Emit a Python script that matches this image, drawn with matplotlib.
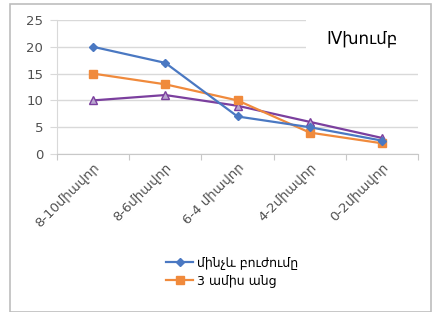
import matplotlib.pyplot as plt
from matplotlib.patches import Rectangle

categories = ["8-10միավոր", "8-6միավոր", "6-4 միավոր", "4-2միավոր", "0-2միավոր"]
before = [20, 17, 7, 5, 2.5]
after3 = [15, 13, 10, 4, 2]
third = [10, 11, 9, 6, 3]
labels = ["մինչև բուժումը", "3 ամիս անց"]

plt.rcParams['font.family'] = ['DejaVu Sans']

fig = plt.figure(figsize=(4.34, 3.12), dpi=100)
fig.patches.append(Rectangle((10 / 434, 0.0), 421 / 434, 1 - 4 / 312,
                             transform=fig.transFigure, fill=False,
                             edgecolor='#bdbdbd', lw=1.2))
ax = fig.add_axes([57 / 434, 1 - 154 / 312, (418 - 57) / 434, (154 - 20) / 312])

x = range(len(categories))
ax.plot(x, third, color='#7b3f9e', marker='^', ms=6, mfc='#b9a6cf', lw=1.6, zorder=3)
ax.plot(x, after3, color='#f08a3c', marker='s', ms=6, lw=1.6, label=labels[1], zorder=3)
ax.plot(x, before, color='#4a78c2', marker='D', ms=4.5, lw=1.6, label=labels[0], zorder=4)

ax.set_xlim(-0.5, len(categories) - 0.5)
ax.set_ylim(0, 25)
ax.set_yticks([0, 5, 10, 15, 20, 25])
ax.yaxis.grid(True, color='#d9d9d9', lw=1)
ax.set_axisbelow(True)
for s in ['top', 'right']:
    ax.spines[s].set_visible(False)
ax.spines['left'].set_color('#d9d9d9')
ax.spines['bottom'].set_color('#c8c8c8')

# boundary ticks between categories, labels at centres
ax.set_xticks([i - 0.5 for i in range(len(categories) + 1)], minor=False)
ax.set_xticklabels([])
ax.set_xticks(list(x), minor=True)
ax.set_xticklabels(categories, minor=True, rotation=45, ha='right', rotation_mode='anchor',
                   fontsize=9.5, color='#505050')
ax.tick_params(axis='x', which='major', length=4, color='#c8c8c8')
ax.tick_params(axis='x', which='minor', length=0, pad=5)
ax.tick_params(axis='y', length=5, color='#d9d9d9', labelsize=9.5, labelcolor='#505050', pad=5)

# title box over the grid
ax.add_patch(Rectangle((306 / 434, 1 - 62 / 312), 118 / 434, 50 / 312, transform=fig.transFigure,
                       facecolor='white', edgecolor='none', zorder=5))
fig.text(362 / 434, 1 - 38 / 312, "IVխումբ", fontsize=12, fontweight='medium',
         ha='center', va='center', zorder=6)

h, l = ax.get_legend_handles_labels()
fig.legend(h[::-1], l[::-1], loc='center', bbox_to_anchor=(232 / 434, 1 - 272 / 312),
           frameon=False, fontsize=9, handlelength=2.2, labelspacing=0.35, handletextpad=0.3)

fig.savefig("out.png", dpi=100)
